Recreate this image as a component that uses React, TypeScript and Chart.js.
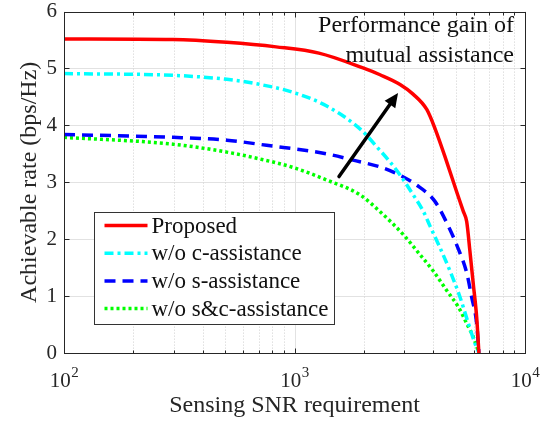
import { useEffect, useRef } from "react";
import { Chart, registerables } from "chart.js";

Chart.register(...registerables);

// ---------- data ----------
const seriesLabels = ["Proposed", "w/o c-assistance", "w/o s-assistance", "w/o s&c-assistance"];

const xProposed = [100, 297, 509, 832, 1276, 1982, 2350, 2870, 3268, 3748, 4074, 4575, 5056, 5400, 5585, 5768, 5966, 6170, 6310];
const yProposed = [5.52, 5.51, 5.46, 5.38, 5.27, 5.01, 4.89, 4.72, 4.55, 4.28, 3.94, 3.36, 2.83, 2.49, 2.31, 1.79, 1.21, 0.63, 0];

const xNoC = [100, 297, 509, 708, 988, 1380, 1923, 2350, 2594, 2870, 3273, 3622, 3873, 4279, 4729, 5227, 5680, 6067, 6310];
const yNoC = [4.91, 4.88, 4.81, 4.72, 4.58, 4.34, 3.94, 3.56, 3.36, 3.13, 2.78, 2.49, 2.23, 1.85, 1.44, 0.98, 0.52, 0.17, 0];

const xNoS = [100, 297, 509, 757, 1380, 1794, 2350, 2686, 3390, 4074, 4649, 5136, 5585, 5870, 6170, 6310];
const yNoS = [3.84, 3.79, 3.74, 3.65, 3.5, 3.39, 3.27, 3.18, 2.95, 2.66, 2.23, 1.83, 1.41, 0.98, 0.52, 0];

const xNoSC = [100, 297, 509, 708, 988, 1380, 1923, 2400, 2966, 3500, 4000, 4575, 5136, 5585, 5966, 6310];
const yNoSC = [3.79, 3.67, 3.53, 3.41, 3.26, 3.04, 2.78, 2.45, 2.08, 1.73, 1.44, 1.1, 0.81, 0.52, 0.28, 0];

const yTicks = [0, 1, 2, 3, 4, 5, 6];
const xMajorTicks = [100, 1000, 10000];
const xMajorLabels = [["10", "2"], ["10", "3"], ["10", "4"]];
const xMinorTicks = [200, 300, 400, 500, 600, 700, 800, 900, 2000, 3000, 4000, 5000, 6000, 7000, 8000, 9000];

const xTitle = "Sensing SNR requirement";
const yTitle = "Achievable rate (bps/Hz)";
const annotationLines = ["Performance gain of", "mutual assistance"];
const arrowFrom = [1560, 3.1];
const arrowTo = [2813, 4.57];

// ---------- styles ----------
const FONT = "'Liberation Serif', 'Times New Roman', serif";
const colors = ["#ff0000", "#00ffff", "#0000ff", "#00ff00"];
const dashes: number[][] = [[], [9, 4, 3, 4], [11, 7], [3, 3]];
const seriesX = [xProposed, xNoC, xNoS, xNoSC];
const seriesY = [yProposed, yNoC, yNoS, yNoSC];

const customPlugin = {
  id: "matlabLook",
  beforeDatasetsDraw(chart: any) {
    const { ctx, chartArea: a, scales } = chart;
    const x = scales.x;
    const y = scales.y;
    ctx.save();
    ctx.lineWidth = 1;
    ctx.strokeStyle = "#e2e2e2";
    for (const v of yTicks) {
      const py = Math.round(y.getPixelForValue(v)) + 0.5;
      ctx.beginPath();
      ctx.moveTo(a.left, py);
      ctx.lineTo(a.right, py);
      ctx.stroke();
    }
    for (const v of xMajorTicks) {
      const px = Math.round(x.getPixelForValue(v)) + 0.5;
      ctx.beginPath();
      ctx.moveTo(px, a.top);
      ctx.lineTo(px, a.bottom);
      ctx.stroke();
    }
    ctx.setLineDash([1, 2]);
    ctx.strokeStyle = "#cfcfcf";
    for (const v of xMinorTicks) {
      const px = Math.round(x.getPixelForValue(v)) + 0.5;
      ctx.beginPath();
      ctx.moveTo(px, a.top);
      ctx.lineTo(px, a.bottom);
      ctx.stroke();
    }
    ctx.restore();
  },
  afterDatasetsDraw(chart: any) {
    const { ctx, chartArea: a, scales } = chart;
    const x = scales.x;
    const y = scales.y;
    const ink = "#262626";
    ctx.save();
    // axes box
    ctx.strokeStyle = ink;
    ctx.lineWidth = 1;
    const L = Math.round(a.left) + 0.5;
    const R = Math.round(a.right) + 0.5;
    const T = Math.round(a.top) + 0.5;
    const B = Math.round(a.bottom) + 0.5;
    ctx.strokeRect(L, T, R - L, B - T);
    // ticks inward
    ctx.beginPath();
    for (const v of yTicks) {
      const py = Math.round(y.getPixelForValue(v)) + 0.5;
      ctx.moveTo(L, py); ctx.lineTo(L + 5, py);
      ctx.moveTo(R, py); ctx.lineTo(R - 5, py);
    }
    for (const v of xMajorTicks) {
      const px = Math.round(x.getPixelForValue(v)) + 0.5;
      ctx.moveTo(px, B); ctx.lineTo(px, B - 5);
      ctx.moveTo(px, T); ctx.lineTo(px, T + 5);
    }
    for (const v of xMinorTicks) {
      const px = Math.round(x.getPixelForValue(v)) + 0.5;
      ctx.moveTo(px, B); ctx.lineTo(px, B - 3);
      ctx.moveTo(px, T); ctx.lineTo(px, T + 3);
    }
    ctx.stroke();

    // x tick labels with superscripts
    ctx.fillStyle = ink;
    ctx.textBaseline = "alphabetic";
    xMajorTicks.forEach((v, i) => {
      const [base, exp] = xMajorLabels[i];
      const px = x.getPixelForValue(v);
      ctx.font = `21px ${FONT}`;
      const wb = ctx.measureText(base).width;
      ctx.font = `15px ${FONT}`;
      const we = ctx.measureText(exp).width;
      const start = px - (wb + we) / 2;
      ctx.font = `21px ${FONT}`;
      ctx.textAlign = "left";
      ctx.fillText(base, start, a.bottom + 34);
      ctx.font = `15px ${FONT}`;
      ctx.fillText(exp, start + wb + 0.5, a.bottom + 24);
    });

    // axis titles
    ctx.font = `24px ${FONT}`;
    ctx.textAlign = "center";
    ctx.fillText(xTitle, (a.left + a.right) / 2, a.bottom + 59);
    ctx.save();
    ctx.translate(36, (a.top + a.bottom) / 2);
    ctx.rotate(-Math.PI / 2);
    ctx.fillText(yTitle, 0, 0);
    ctx.restore();

    // annotation text
    ctx.fillStyle = "#111";
    ctx.textAlign = "right";
    ctx.font = `24px ${FONT}`;
    ctx.fillText(annotationLines[0], a.right - 11, a.top + 20);
    ctx.fillText(annotationLines[1], a.right - 11, a.top + 50);

    // arrow
    const x0 = x.getPixelForValue(arrowFrom[0]);
    const y0 = y.getPixelForValue(arrowFrom[1]);
    const x1 = x.getPixelForValue(arrowTo[0]);
    const y1 = y.getPixelForValue(arrowTo[1]);
    const ang = Math.atan2(y1 - y0, x1 - x0);
    const hl = 14;
    const hw = 6.5;
    const bx = x1 - hl * Math.cos(ang);
    const by = y1 - hl * Math.sin(ang);
    ctx.strokeStyle = "#000";
    ctx.fillStyle = "#000";
    ctx.lineWidth = 3.5;
    ctx.lineCap = "round";
    ctx.beginPath();
    ctx.moveTo(x0, y0);
    ctx.lineTo(bx + 2 * Math.cos(ang), by + 2 * Math.sin(ang));
    ctx.stroke();
    ctx.beginPath();
    ctx.moveTo(x1, y1);
    ctx.lineTo(bx + hw * Math.sin(ang), by - hw * Math.cos(ang));
    ctx.lineTo(bx - hw * Math.sin(ang), by + hw * Math.cos(ang));
    ctx.closePath();
    ctx.fill();
    ctx.lineCap = "butt";

    // legend
    const lx = 94.5, ly = 212.5, lw = 240, lh = 112;
    ctx.fillStyle = "#fff";
    ctx.fillRect(lx, ly, lw, lh);
    ctx.strokeStyle = "#333";
    ctx.lineWidth = 1;
    ctx.strokeRect(lx, ly, lw, lh);
    ctx.font = `23px ${FONT}`;
    ctx.textAlign = "left";
    ctx.textBaseline = "middle";
    chart.data.datasets.forEach((ds: any, i: number) => {
      const ry = ly + 13 + i * 27.7;
      ctx.strokeStyle = ds.borderColor;
      ctx.lineWidth = ds.borderWidth;
      ctx.setLineDash(ds.borderDash || []);
      ctx.beginPath();
      ctx.moveTo(lx + 10, ry);
      ctx.lineTo(lx + 53, ry);
      ctx.stroke();
      ctx.setLineDash([]);
      ctx.fillStyle = "#111";
      ctx.fillText(ds.label, lx + 57, ry + 1);
    });
    ctx.restore();
  },
};

export default function App() {
  const ref = useRef<HTMLCanvasElement | null>(null);
  useEffect(() => {
    document.body.style.margin = "0";
    const canvas = ref.current;
    if (!canvas) return;
    const chart = new Chart(canvas, {
      type: "line",
      data: {
        datasets: seriesLabels.map((label, i) => ({
          label,
          data: seriesX[i].map((xv, j) => ({ x: xv, y: seriesY[i][j] })),
          borderColor: colors[i],
          backgroundColor: colors[i],
          borderWidth: 3.5,
          borderDash: dashes[i],
          pointRadius: 0,
          cubicInterpolationMode: "monotone",
          fill: false,
        })),
      },
      options: {
        animation: false,
        responsive: false,
        devicePixelRatio: 1,
        layout: { padding: { top: 8, right: 27, left: 0, bottom: 0 } },
        plugins: { legend: { display: false }, tooltip: { enabled: false } },
        scales: {
          x: {
            type: "logarithmic",
            min: 100,
            max: 10000,
            grid: { display: false },
            border: { display: false },
            ticks: { display: false },
            afterFit: (s: any) => { s.height = 69; },
          },
          y: {
            type: "linear",
            min: 0,
            max: 6,
            grid: { display: false },
            border: { display: false },
            afterBuildTicks: (s: any) => { s.ticks = yTicks.map((v) => ({ value: v })); },
            ticks: {
              color: "#262626",
              padding: -1,
              font: { family: FONT, size: 21 },
              callback: (v: any) => String(v),
            },
            afterFit: (s: any) => { s.width = 64; },
          },
        },
      } as any,
      plugins: [customPlugin],
    });
    return () => chart.destroy();
  }, []);
  return <canvas ref={ref} width={552} height={422} style={{ display: "block", width: 552, height: 422 }} />;
}
